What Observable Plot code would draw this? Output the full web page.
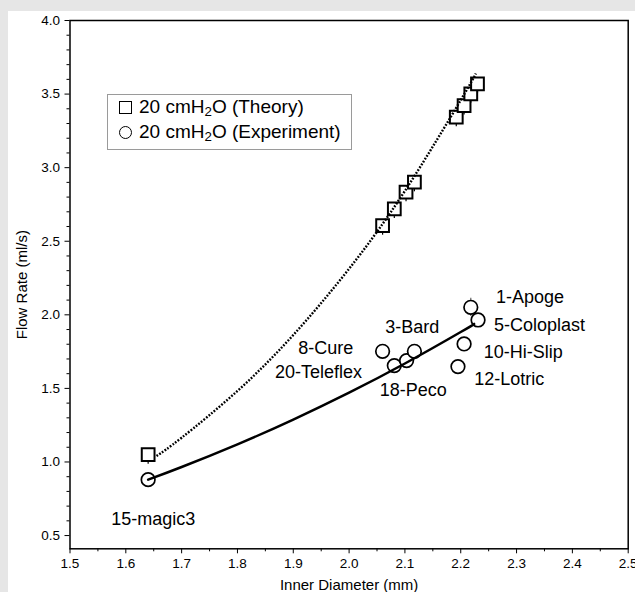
<!DOCTYPE html>
<html>
<head>
<meta charset="utf-8">
<script src="https://cdn.jsdelivr.net/npm/d3@7"></script>
<script src="https://cdn.jsdelivr.net/npm/@observablehq/plot@0.6"></script>
<style>
  html, body { margin: 0; padding: 0; }
  body { width: 635px; height: 592px; background: #e6e6e6; position: relative; overflow: hidden;
         font-family: "Liberation Sans", Arial, Helvetica, sans-serif; }
  #panel { position: absolute; left: 8px; top: 11px; width: 627px; height: 581px; background: #fff; }
  #legend { position: absolute; left: 107px; top: 94px; width: 243px; height: 54px;
            border: 1px solid #9a9a9a; background: #fff; font-size: 19px; color: #000; }
  .row { position: absolute; left: 0; height: 22px; line-height: 22px; white-space: nowrap; }
  .row span.t { position: absolute; left: 31px; top: 0; }
  .sym { position: absolute; left: 11px; top: 5px; width: 11px; height: 11px; border: 1.6px solid #000; box-sizing: content-box; }
  .circ { border-radius: 50%; }
  sub { font-size: 0.7em; line-height: 0; vertical-align: -0.25em; }
</style>
</head>
<body>
<div id="panel"></div>
<div id="legend">
  <div class="row" style="top:1px"><div class="sym"></div><span class="t">20 cmH<sub>2</sub>O (Theory)</span></div>
  <div class="row" style="top:26px"><div class="sym circ"></div><span class="t">20 cmH<sub>2</sub>O (Experiment)</span></div>
</div>
<script>
// ---- data ----
const theoryD   = [1.640, 2.060, 2.081, 2.102, 2.117, 2.192, 2.206, 2.218, 2.230];
const theoryQ   = [1.050, 2.606, 2.720, 2.833, 2.901, 3.343, 3.422, 3.502, 3.570];
const theoryErr = [0.065, 0.065, 0.065, 0.065, 0.065, 0.065, 0.065, 0.065, 0.065];

const expNames  = ["15-magic3", "8-Cure", "20-Teleflex", "18-Peco", "3-Bard", "10-Hi-Slip", "12-Lotric", "1-Apoge", "5-Coloplast"];
const expD      = [1.640, 2.060, 2.081, 2.103, 2.117, 2.206, 2.195, 2.218, 2.231];
const expQ      = [0.880, 1.752, 1.655, 1.689, 1.752, 1.802, 1.648, 2.051, 1.965];
const expErr    = [0.030, 0.030, 0.030, 0.030, 0.030, 0.045, 0.030, 0.062, 0.030];
const labelD    = [1.649, 1.958, 1.945, 2.115, 2.113, 2.312, 2.287, 2.324, 2.341];
const labelQ    = [0.612, 1.770, 1.607, 1.485, 1.915, 1.745, 1.559, 2.119, 1.927];

// fitted curves, points
const theoryFitD = [1.655, 1.70, 1.80, 1.90, 2.00, 2.10, 2.20, 2.227];
const theoryFitQ = [1.040, 1.165, 1.483, 1.863, 2.313, 2.842, 3.459, 3.640];
const expFitD    = [1.640, 1.70, 1.80, 1.90, 2.00, 2.10, 2.20, 2.224];
const expFitQ    = [0.880, 0.966, 1.120, 1.288, 1.471, 1.669, 1.883, 1.938];

const xMajor = [1.5, 1.6, 1.7, 1.8, 1.9, 2.0, 2.1, 2.2, 2.3, 2.4, 2.5];
const xMinor = [1.55, 1.65, 1.75, 1.85, 1.95, 2.05, 2.15, 2.25, 2.35, 2.45];
const yMajor = [0.5, 1.0, 1.5, 2.0, 2.5, 3.0, 3.5, 4.0];
const yMinor = [0.6, 0.7, 0.8, 0.9, 1.1, 1.2, 1.3, 1.4, 1.6, 1.7, 1.8, 1.9, 2.1, 2.2, 2.3, 2.4,
                2.6, 2.7, 2.8, 2.9, 3.1, 3.2, 3.3, 3.4, 3.6, 3.7, 3.8, 3.9];

// ---- tables ----
const theory = theoryD.map((d, i) => ({d, q: theoryQ[i], lo: theoryQ[i] - theoryErr[i]}));
const exp = expD.map((d, i) => ({name: expNames[i], d, q: expQ[i], lo: expQ[i] - expErr[i], hi: expQ[i] + expErr[i], ld: labelD[i], lq: labelQ[i]}));
const theoryFit = theoryFitD.map((d, i) => ({d, q: theoryFitQ[i]}));
const expFit = expFitD.map((d, i) => ({d, q: expFitQ[i]}));

const font = "Liberation Sans, Arial, Helvetica, sans-serif";
const blank = () => "";

const chart = Plot.plot({
  width: 627,
  height: 581,
  marginLeft: 61.5,
  marginRight: 7.3,
  marginTop: 9,
  marginBottom: 43.7,
  style: {fontFamily: font, fontSize: "13.5px", background: "transparent", color: "#000", overflow: "visible"},
  x: {domain: [1.5, 2.5]},
  y: {domain: [0.41, 4.0]},
  marks: [
    Plot.axisX({ticks: xMajor, tickSize: 5, tickPadding: 5, tickFormat: d3.format(".1f"), label: null}),
    Plot.axisX({ticks: xMinor, tickSize: 3, tickFormat: blank, label: null}),
    Plot.axisY({ticks: yMajor, tickSize: 5, tickPadding: 5, tickFormat: d3.format(".1f"), label: null}),
    Plot.axisY({ticks: yMinor, tickSize: 3, tickFormat: blank, label: null}),
    Plot.text(["Inner Diameter (mm)"], {frameAnchor: "bottom", dy: 36, lineAnchor: "middle", fontSize: 15, fill: "#000"}),
    Plot.text(["Flow Rate (ml/s)"], {frameAnchor: "left", dx: -47.5, rotate: -90, lineAnchor: "middle", textAnchor: "middle", fontSize: 15, fill: "#000"}),
    Plot.ruleX(theory, {x: "d", y1: "lo", y2: "q", stroke: "#000", strokeWidth: 1.2}),
    Plot.ruleX(exp, {x: "d", y1: "lo", y2: "hi", stroke: "#666", strokeWidth: 1.2}),
    Plot.dot(theory, {x: "d", y: "q", symbol: "square", r: 7.2, stroke: "#000", strokeWidth: 2, fill: "#fff"}),
    Plot.dot(exp, {x: "d", y: "q", symbol: "circle", r: 6.8, stroke: "#000", strokeWidth: 1.7, fill: "#fff"}),
    Plot.line(theoryFit, {x: "d", y: "q", curve: "natural", stroke: "#000", strokeWidth: 2.4, strokeDasharray: "1.8 1.5", strokeLinecap: "butt"}),
    Plot.line(expFit, {x: "d", y: "q", curve: "natural", stroke: "#000", strokeWidth: 2.5}),
    Plot.text(exp, {x: "ld", y: "lq", text: "name", fontSize: 18, fill: "#000", textAnchor: "middle", lineAnchor: "middle"}),
    Plot.frame({stroke: "#000", strokeWidth: 1.5})
  ]
});
document.getElementById("panel").appendChild(chart);
</script>
</body>
</html>
